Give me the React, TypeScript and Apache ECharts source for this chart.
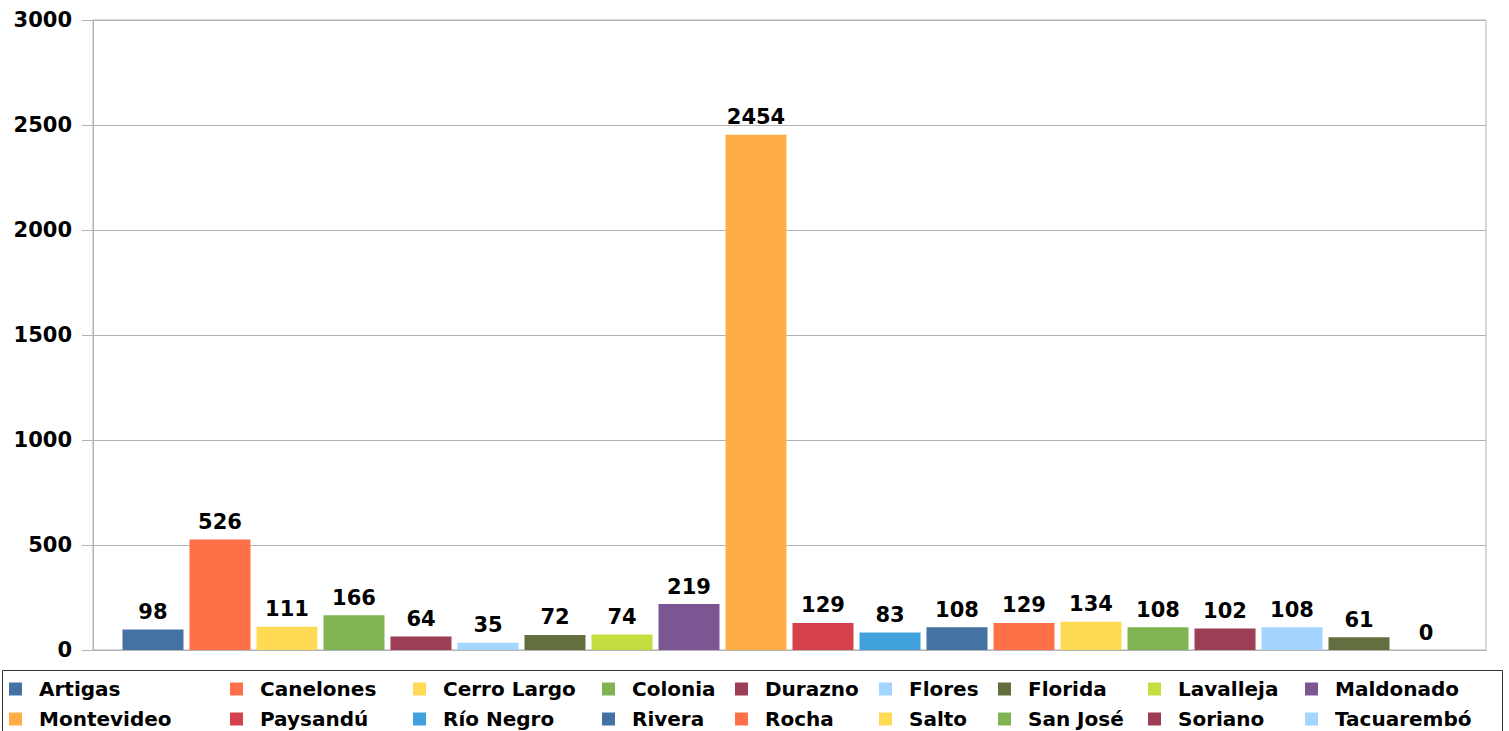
import React, { useEffect, useRef } from "react";
import * as echarts from "echarts";

const departments = [
  "Artigas", "Canelones", "Cerro Largo", "Colonia", "Durazno", "Flores", "Florida",
  "Lavalleja", "Maldonado", "Montevideo", "Paysandú", "Río Negro", "Rivera", "Rocha",
  "Salto", "San José", "Soriano", "Tacuarembó", "Treinta y Tres", "Sin datos",
];
const values = [98, 526, 111, 166, 64, 35, 72, 74, 219, 2454, 129, 83, 108, 129, 134, 108, 102, 108, 61, 0];
const palette = [
  "#4372a3", "#ff7049", "#ffdb55", "#80b452", "#9e3d56", "#a4d5fe", "#636f3f",
  "#c4dd3f", "#7b5693", "#ffad48", "#d5414a", "#40a1dc",
];
const yTicks = { min: 0, max: 3000, interval: 500 };
// Only the two legend rows visible in the picture
const legendColumns = [
  ["Artigas", "Montevideo"],
  ["Canelones", "Paysandú"],
  ["Cerro Largo", "Río Negro"],
  ["Colonia", "Rivera"],
  ["Durazno", "Rocha"],
  ["Flores", "Salto"],
  ["Florida", "San José"],
  ["Lavalleja", "Soriano"],
  ["Maldonado", "Tacuarembó"],
];
const legendLefts = [9, 230, 413, 602, 735, 879, 998, 1148, 1305];

const FONT = "'DejaVu Sans', Verdana, sans-serif";

export default function App() {
  const ref = useRef<HTMLDivElement>(null);
  useEffect(() => {
    if (!ref.current) return;
    const chart = echarts.init(ref.current, undefined, { renderer: "svg" });
    const series = departments.map((name, i) => ({
      name,
      type: "bar",
      data: [values[i]],
      barWidth: 61,
      barGap: "9.84%",
      itemStyle: { color: palette[i % palette.length] },
      label: {
        show: true,
        position: "top",
        distance: 7,
        color: "#000",
        fontFamily: FONT,
        fontWeight: "bold",
        fontSize: 21,
      },
    }));
    const legends = legendColumns.map((col, i) => ({
      orient: "vertical",
      left: legendLefts[i],
      top: 676,
      padding: 0,
      itemGap: 4,
      itemWidth: 13,
      itemHeight: 13,
      icon: "rect",
      selectedMode: false,
      data: col,
      textStyle: {
        color: "#000",
        fontFamily: FONT,
        fontWeight: "bold",
        fontSize: 20,
        lineHeight: 20,
        padding: [6, 0, 0, 12],
      },
    }));
    chart.setOption({
      animation: false,
      color: palette,
      grid: {
        left: 93,
        top: 20,
        width: 1393,
        height: 630,
        show: true,
        borderColor: "#b3b3b3",
        borderWidth: 1,
        backgroundColor: "transparent",
      },
      legend: legends,
      xAxis: {
        type: "category",
        data: [""],
        axisLine: { show: true, lineStyle: { color: "#b3b3b3" } },
        axisTick: { show: false },
        axisLabel: { show: false },
      },
      yAxis: {
        type: "value",
        min: yTicks.min,
        max: yTicks.max,
        interval: yTicks.interval,
        axisLine: { show: true, lineStyle: { color: "#b3b3b3" } },
        axisTick: { show: true, length: 11, lineStyle: { color: "#b3b3b3" } },
        splitLine: { show: true, lineStyle: { color: "#b3b3b3" } },
        axisLabel: {
          margin: 21,
          color: "#000",
          fontFamily: FONT,
          fontWeight: "bold",
          fontSize: 21,
          formatter: (v: number) => String(v),
        },
      },
      graphic: [
        {
          type: "rect",
          shape: { x: 2.5, y: 670.5, width: 1500, height: 110 },
          style: { fill: "none", stroke: "#333", lineWidth: 1 },
          z: -1,
        },
      ],
      series,
    });
    return () => chart.dispose();
  }, []);
  return (
    <div style={{ position: "fixed", left: 0, top: 0, width: 1509, height: 731, overflow: "hidden", background: "#fff" }}>
      <div ref={ref} style={{ width: 1509, height: 800 }} />
    </div>
  );
}
